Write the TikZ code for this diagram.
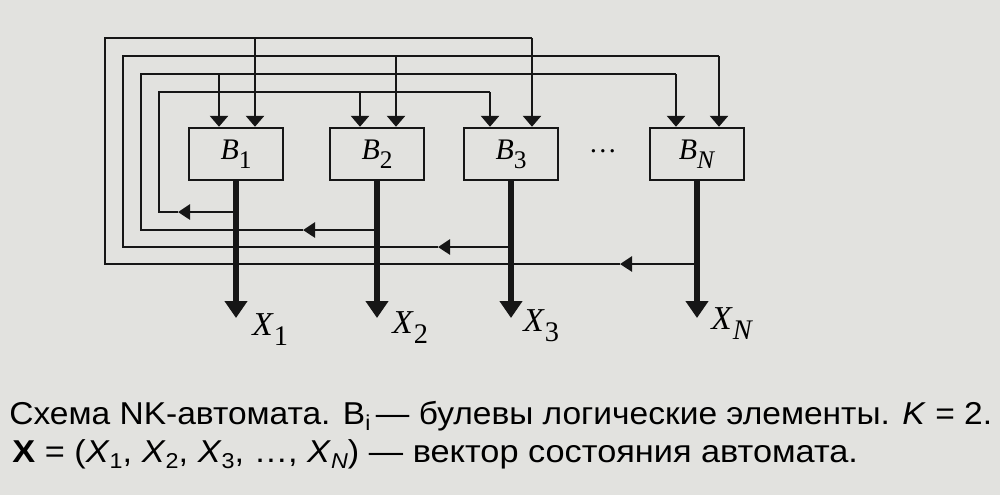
\documentclass[tikz,border=0pt]{standalone}
\usepackage{fontspec}
\usepackage{graphicx}
\setmainfont{Liberation Serif}
\newfontfamily\capfont{Liberation Sans}
\usetikzlibrary{arrows.meta,calc}
\definecolor{bg}{RGB}{226,226,223}
\definecolor{ink}{RGB}{22,22,22}
\newcommand\dsub[1]{\raisebox{-0.3em}{\scalebox{0.85}{#1}}}
\newcommand\csub[1]{\raisebox{-0.22em}{\scalebox{0.68}{#1}}}
\begin{document}
\begin{tikzpicture}[x=0.02cm,y=-0.02cm,
  block/.style={draw=ink, line width=1.4pt, minimum width=1.88cm, minimum height=1.04cm, inner sep=0pt,
    font=\fontsize{17}{17}\selectfont},
  wire/.style={draw=ink, line width=1.6pt},
  feed/.style={wire, -{Triangle[length=0.22cm,width=0.36cm]}},
  back/.style={wire, -{Triangle[length=0.24cm,width=0.30cm]}},
  outw/.style={draw=ink, line width=3pt, -{Triangle[length=0.34cm,width=0.44cm]}},
  xlab/.style={anchor=base west, inner sep=0pt, font=\fontsize{19}{19}\selectfont},
  captxt/.style={anchor=base west, inner sep=0pt, font=\capfont\fontsize{18}{18}\selectfont}]
\fill[bg] (0,0) rectangle (1000,495);
\useasboundingbox (0,0) rectangle (1000,495);

% blocks
\node[block] (B1) at (236,154) {\textit{B}\dsub{1}};
\node[block] (B2) at (377,154) {\textit{B}\dsub{2}};
\node[block] (B3) at (511,154) {\textit{B}\dsub{3}};
\node[block] (BN) at (697,154) {\textit{B}\dsub{\textit{N}}};
\node[inner sep=0pt, font=\fontsize{16}{16}\selectfont] (dots) at (603,151) {…};

% inputs
\coordinate (B1a) at ($(B1.north)+(-17,0)$);
\coordinate (B1b) at ($(B1.north)+(19,0)$);
\coordinate (B2a) at ($(B2.north)+(-17,0)$);
\coordinate (B2b) at ($(B2.north)+(19,0)$);
\coordinate (B3a) at ($(B3.north)+(-21,0)$);
\coordinate (B3b) at ($(B3.north)+(21,0)$);
\coordinate (BNa) at ($(BN.north)+(-21,0)$);
\coordinate (BNb) at ($(BN.north)+(22,0)$);

% output tips
\coordinate (X1) at (236,318);
\coordinate (X2) at (377,318);
\coordinate (X3) at (511,318);
\coordinate (XN) at (697,318);

% branch points on outputs
\coordinate (o1) at (236,212);
\coordinate (o2) at (377,230);
\coordinate (o3) at (511,247);
\coordinate (o4) at (697,264);
% mid arrows
\coordinate (m1) at (178,212);
\coordinate (m2) at (303,230);
\coordinate (m3) at (438,247);
\coordinate (m4) at (620,264);
% left corners
\coordinate (l1) at (159,212);
\coordinate (l2) at (141,230);
\coordinate (l3) at (123,247);
\coordinate (l4) at (105,264);
% top corners
\coordinate (t1) at (159,92);
\coordinate (t2) at (141,74);
\coordinate (t3) at (123,56);
\coordinate (t4) at (105,38);

% loop 1: B1 -> B2, B3
\draw[back] (o1) -- (m1);
\draw[wire] (m1) -- (l1) -- (t1) -- (B3a |- t1);
\draw[feed] (B3a |- t1) -- (B3a);
\draw[feed] (B2a |- t1) -- (B2a);
% loop 2: B2 -> B1, BN
\draw[back] (o2) -- (m2);
\draw[wire] (m2) -- (l2) -- (t2) -- (BNa |- t2);
\draw[feed] (BNa |- t2) -- (BNa);
\draw[feed] (B1a |- t2) -- (B1a);
% loop 3: B3 -> B2, BN
\draw[back] (o3) -- (m3);
\draw[wire] (m3) -- (l3) -- (t3) -- (BNb |- t3);
\draw[feed] (BNb |- t3) -- (BNb);
\draw[feed] (B2b |- t3) -- (B2b);
% loop 4: BN -> B1, B3
\draw[back] (o4) -- (m4);
\draw[wire] (m4) -- (l4) -- (t4) -- (B3b |- t4);
\draw[feed] (B3b |- t4) -- (B3b);
\draw[feed] (B1b |- t4) -- (B1b);

% outputs
\draw[outw] (B1.south) -- (X1);
\draw[outw] (B2.south) -- (X2);
\draw[outw] (B3.south) -- (X3);
\draw[outw] (BN.south) -- (XN);
\node[xlab] (L1) at (252,335) {\textit{X}\dsub{1}};
\node[xlab] (L2) at (392,333) {\textit{X}\dsub{2}};
\node[xlab] (L3) at (523,331) {\textit{X}\dsub{3}};
\node[xlab] (LN) at (711,329) {\textit{X}\dsub{\textit{N}}};

% caption
\node[captxt] (cap1) at (9,424) {\scalebox{1.06}[1]{Схема NK-автомата. B\csub{i}\,— булевы логические элементы. \textit{K} = 2.}};
\node[captxt] (cap2) at (12,462) {\scalebox{1.085}[1]{\textbf{X} = (\textit{X}\csub{1}, \textit{X}\csub{2}, \textit{X}\csub{3}, …, \textit{X}\csub{\textit{N}}) — вектор состояния автомата.}};
\end{tikzpicture}
\end{document}
